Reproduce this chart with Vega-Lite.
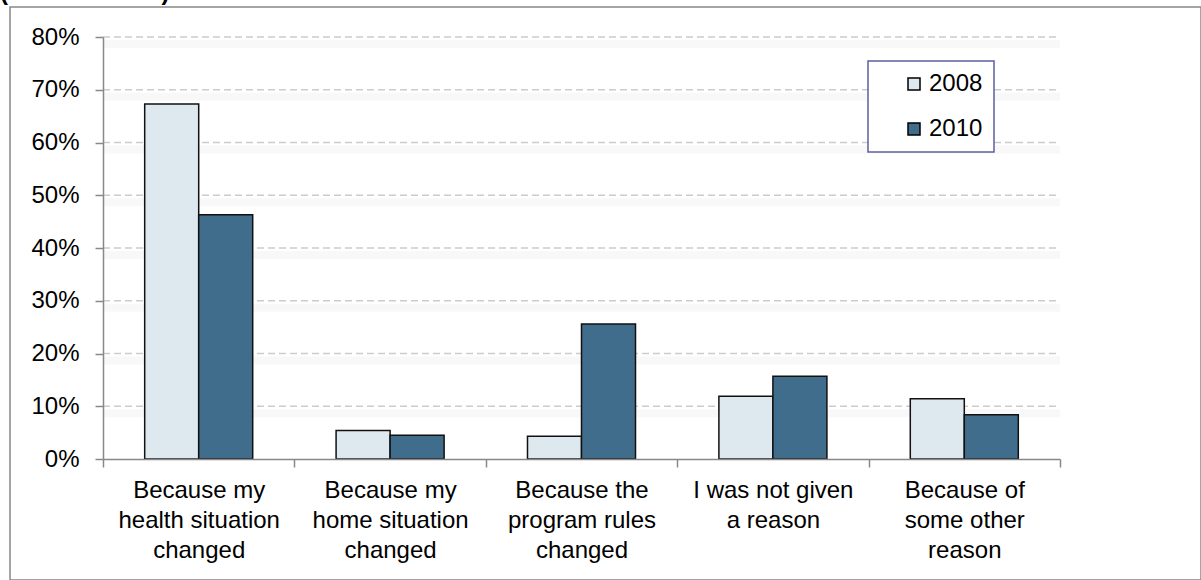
{
  "$schema": "https://vega.github.io/schema/vega-lite/v6.json",
  "width": 1191,
  "height": 573,
  "autosize": "none",
  "padding": {"left": 10, "top": 7, "right": 0, "bottom": 0},
  "title": {"text": "(2008 vs. 2010)", "anchor": "start", "frame": "group", "dx": -10, "offset": 2, "fontSize": 24, "fontWeight": "bold", "font": "Liberation Sans", "color": "black"},
  "config": {"view": {"stroke": "#888888", "strokeWidth": 1.5}, "font": "Liberation Sans"},
  "datasets": {
    "grid": [{"v": 0.1}, {"v": 0.2}, {"v": 0.3}, {"v": 0.4}, {"v": 0.5}, {"v": 0.6}, {"v": 0.7}, {"v": 0.8}]
  },
  "layer": [
    {
      "data": {"name": "grid"},
      "mark": {"type": "rule", "color": "#f8f8f8", "strokeWidth": 8, "yOffset": 7},
      "encoding": {
        "y": {"field": "v", "type": "quantitative", "scale": {"domain": [0, 0.8], "range": [452, 30], "nice": false, "zero": true},
          "axis": {"format": ".0%", "values": [0, 0.1, 0.2, 0.3, 0.4, 0.5, 0.6, 0.7, 0.8], "grid": false, "offset": -93, "domainColor": "#888888", "domainWidth": 1.5, "tickColor": "#888888", "tickWidth": 1.5, "tickSize": 8, "labelFontSize": 24, "labelColor": "black", "labelPadding": 16, "title": null, "labelFont": "Liberation Sans", "zindex": 1}},
        "x": {"datum": 0, "type": "quantitative", "scale": {"domain": [0, 1], "range": [93, 1050]}, "axis": null},
        "x2": {"datum": 1}
      }
    },
    {
      "data": {"name": "grid"},
      "mark": {"type": "rule", "color": "#cccccc", "strokeWidth": 1.5, "strokeDash": [7, 4]},
      "encoding": {
        "y": {"field": "v", "type": "quantitative", "scale": {"domain": [0, 0.8], "range": [452, 30], "nice": false, "zero": true},
          "axis": {"format": ".0%", "values": [0, 0.1, 0.2, 0.3, 0.4, 0.5, 0.6, 0.7, 0.8], "grid": false, "offset": -93, "domainColor": "#888888", "domainWidth": 1.5, "tickColor": "#888888", "tickWidth": 1.5, "tickSize": 8, "labelFontSize": 24, "labelColor": "black", "labelPadding": 16, "title": null, "labelFont": "Liberation Sans", "zindex": 1}},
        "x": {"datum": 0, "type": "quantitative", "scale": {"domain": [0, 1], "range": [93, 1050]}, "axis": null},
        "x2": {"datum": 1}
      }
    },
    {
      "data": {"values": [
        {"reason": "Because my health situation changed", "year": "2008", "pct": 0.673},
        {"reason": "Because my health situation changed", "year": "2010", "pct": 0.463},
        {"reason": "Because my home situation changed", "year": "2008", "pct": 0.054},
        {"reason": "Because my home situation changed", "year": "2010", "pct": 0.045},
        {"reason": "Because the program rules changed", "year": "2008", "pct": 0.043},
        {"reason": "Because the program rules changed", "year": "2010", "pct": 0.256},
        {"reason": "I was not given a reason", "year": "2008", "pct": 0.119},
        {"reason": "I was not given a reason", "year": "2010", "pct": 0.157},
        {"reason": "Because of some other reason", "year": "2008", "pct": 0.114},
        {"reason": "Because of some other reason", "year": "2010", "pct": 0.084}
      ]},
      "mark": {"type": "bar", "stroke": "#111111", "strokeWidth": 1.5},
      "encoding": {
        "x": {"field": "reason", "type": "nominal", "sort": null,
          "scale": {"range": [93, 1050], "paddingInner": 0, "paddingOuter": 0},
          "axis": {"orient": "bottom", "offset": -121, "tickBand": "extent", "labelAngle": 0, "title": null,
            "labelExpr": "datum.label == 'Because my health situation changed' ? ['Because my', 'health situation', 'changed'] : datum.label == 'Because my home situation changed' ? ['Because my', 'home situation', 'changed'] : datum.label == 'Because the program rules changed' ? ['Because the', 'program rules', 'changed'] : datum.label == 'I was not given a reason' ? ['I was not given', 'a reason'] : datum.label == 'Because of some other reason' ? ['Because of', 'some other', 'reason'] : ''",
            "labelFontSize": 24, "labelLineHeight": 30, "labelPadding": 11, "labelColor": "black", "labelFont": "Liberation Sans", "labelLimit": 400, "labelOverlap": false, "labelFlush": false,
            "domainColor": "#888888", "domainWidth": 1.5, "tickColor": "#888888", "tickWidth": 1.5, "tickSize": 8, "grid": false, "zindex": 1}},
        "xOffset": {"field": "year", "type": "nominal", "scale": {"paddingInner": 0, "paddingOuter": 0.772}},
        "y": {"field": "pct", "type": "quantitative", "scale": {"domain": [0, 0.8], "range": [452, 30], "nice": false, "zero": true},
          "axis": {"format": ".0%", "values": [0, 0.1, 0.2, 0.3, 0.4, 0.5, 0.6, 0.7, 0.8], "grid": false, "offset": -93, "domainColor": "#888888", "domainWidth": 1.5, "tickColor": "#888888", "tickWidth": 1.5, "tickSize": 8, "labelFontSize": 24, "labelColor": "black", "labelPadding": 16, "title": null, "labelFont": "Liberation Sans", "zindex": 1}},
        "fill": {"field": "year", "type": "nominal", "scale": {"domain": ["2008", "2010"], "range": ["#DEE8EF", "#416D8D"]},
          "legend": {"orient": "none", "legendX": 858, "legendY": 54, "title": null, "padding": 11, "symbolOffset": 23, "symbolType": "square", "symbolSize": 144, "symbolStrokeColor": "#000000", "symbolStrokeWidth": 1.5, "labelFontSize": 24, "labelFont": "Liberation Sans", "labelOffset": 3, "rowPadding": 21, "strokeColor": "#5f5f9f", "fillColor": "white", "labelColor": "black",
            "encode": {"legend": {"update": {"strokeWidth": {"value": 1.5}}}}}}
      }
    }
  ],
  "resolve": {"scale": {"x": "independent"}}
}
